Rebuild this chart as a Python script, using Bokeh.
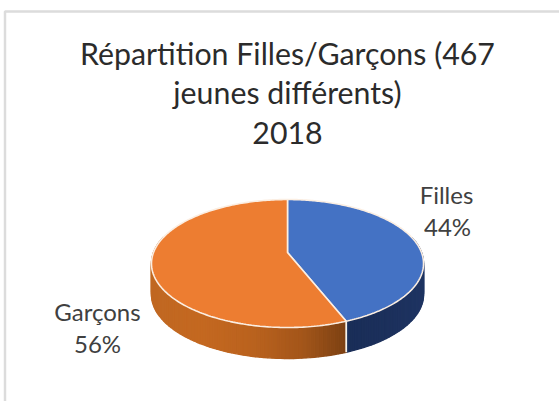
import numpy as np
from bokeh.core.properties import value
from bokeh.embed import file_html
from bokeh.models import Range1d
from bokeh.plotting import figure
from bokeh.resources import INLINE

# data
categories = ["Filles", "Garçons"]
percent = [44, 56]
top_colors = ["#4472C4", "#ED7D31"]
title_lines = ["Répartition Filles/Garçons (467", "jeunes différents)", "2018"]
label_lines = ["Filles", "44%", "Garçons", "56%"]

# layout, in pixels of the picture
W, H = 559, 401
X0, Y0 = 0, 0
CX, CY, RX, RY, K, DEPTH = 287.0, 252.0, 134.0, 62.1, 0.172, 31.0
FONT = "Lato"


def project(theta, drop=0.0):
    u, v = np.sin(theta), np.cos(theta)
    d = 1 + K * v
    return CX + RX * u / d, CY - RY * v / d + drop


p = figure(width=W, height=H, output_backend="svg", toolbar_location=None,
           x_range=Range1d(X0, X0 + W), y_range=Range1d(Y0 + H, Y0),
           min_border=0, outline_line_color=None,
           background_fill_color="white", border_fill_color="white")
p.axis.visible = False
p.grid.visible = False

# chart frame (only its top and left edges are in view)
p.line([4.5, 4.5, X0 + W], [Y0 + H, 11, 11], line_color="#dcdcdc", line_width=2.5)

# angles from the values, clockwise from twelve o'clock
fractions = np.array(percent, dtype=float) / sum(percent)
edges = np.concatenate([[0.0], np.cumsum(fractions)]) * 2 * np.pi


def ramp(stops, t):
    stops = np.array(stops, dtype=float)
    pos = np.linspace(0, 1, len(stops))
    return "#%02x%02x%02x" % tuple(int(round(np.interp(t, pos, stops[:, i]))) for i in range(3))


side_stops = [
    [(26, 46, 88), (28, 48, 92), (30, 52, 98)],
    [(192, 104, 34), (196, 104, 32), (186, 98, 30), (164, 86, 26), (120, 62, 18)],
]
side_span = [(350, 424), (152, 350)]

# side wall, slice by slice
xs, ys, cs = [], [], []
for idx in range(len(percent)):
    a, b = edges[idx], edges[idx + 1]
    n = max(int((b - a) / np.radians(1.5)), 2)
    th = np.linspace(a, b, n + 1)
    for i in range(n):
        t0, t1 = th[i], th[i + 1]
        if np.cos((t0 + t1) / 2) > 0.25:
            continue
        xa, ya = project(np.array([t0, t1]))
        xb, yb = project(np.array([t1, t0]), DEPTH)
        xs.append(list(xa) + list(xb))
        ys.append(list(ya) + list(yb))
        lo, hi = side_span[idx]
        cs.append(ramp(side_stops[idx], float(np.clip((xa.mean() - lo) / (hi - lo), 0, 1))))
p.patches(xs, ys, fill_color=cs, line_color=cs, line_width=1.4)

# seam between both slices on the wall
sx, sy = project(np.array([edges[1], edges[1]]))
p.line(sx, [sy[0], sy[1] + DEPTH], line_color="#f6f1ea", line_width=1.8)

# top face
for idx in range(len(percent)):
    th = np.linspace(edges[idx], edges[idx + 1], 200)
    x, y = project(th)
    p.patch(np.r_[x, CX], np.r_[y, CY], fill_color=top_colors[idx],
            line_color="#fbeee2", line_width=1.6)

# texts
p.text([287, 287, 287], [52, 91, 132], text=title_lines, text_align="center",
       text_baseline="middle", text_font=value(FONT), text_font_size="30.3px", text_color="#2b2b2b")
p.text([446, 447, 97, 97], [194, 226, 311, 343], text=label_lines, text_align="center",
       text_baseline="middle", text_font=value(FONT), text_font_size="24px", text_color="#404040")

open("out.html", "w").write(file_html(p, INLINE))
